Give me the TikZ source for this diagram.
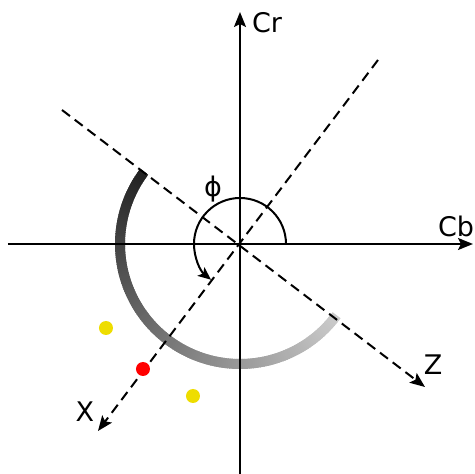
\documentclass[tikz,border=0pt]{standalone}
\usepackage{fontspec}
\setmainfont{DejaVu Sans}
\usetikzlibrary{arrows.meta}
\definecolor{dotyellow}{RGB}{238,221,0}
\tikzset{
  axis/.style={line width=2pt,-{Stealth[length=15pt,width=12pt,inset=3pt]}},
  dline/.style={line width=2pt,dash pattern=on 10pt off 6pt,-{Stealth[length=15pt,width=12pt,inset=3pt]}},
  lab/.style={font=\fontsize{27}{30}\selectfont,inner sep=0pt},
  dot/.style={circle,inner sep=0pt,minimum size=14pt}
}
\begin{document}
\begin{tikzpicture}[x=1pt,y=1pt]
\useasboundingbox (-240,-230) rectangle (235,244);
\coordinate (O) at (0,0);
\coordinate (crb) at (0,-232);
\coordinate (crt) at (0,232);
\coordinate (cbl) at (-232,0);
\coordinate (cbr) at (233,0);
\coordinate (xs) at (138,184);
\coordinate (xt) at (-142,-187);
\coordinate (zs) at (-178,134);
\coordinate (zt) at (185,-143);
% gradient arc
\foreach \a in {143,144,...,322}{
  \pgfmathsetmacro{\c}{87-67*(\a-143)/180}
  \draw[line width=10pt,black!\c] (O) ++(\a:120) arc[start angle=\a,end angle=\a+1.6,radius=120];
}
\draw[axis] (cbl) -- (cbr);
\draw[axis] (crb) -- (crt);
\draw[dline] (xs) -- (xt);
\draw[dline] (zs) -- (zt);
\draw[line width=2pt,-{Stealth[length=13pt,width=11pt,inset=3pt]}] (O) ++(0:46) arc[start angle=0,end angle=231,radius=46];
\node[dot,fill=dotyellow] (y1) at (-134,-84) {};
\node[dot,fill=red] (r1) at (-97,-125) {};
\node[dot,fill=dotyellow] (y2) at (-47,-152) {};
\node[lab] (lcr) at (27,221) {Cr};
\node[lab] (lcb) at (216,18) {Cb};
\node[lab] (lx) at (-155,-168) {X};
\node[lab] (lz) at (193,-121) {Z};
\node[lab] (lphi) at (-27,55) {ϕ};
\end{tikzpicture}
\end{document}
